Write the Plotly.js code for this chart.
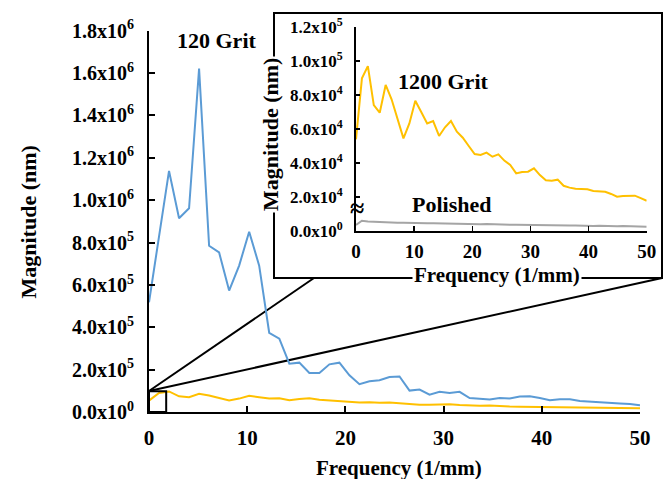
<!DOCTYPE html>
<html>
<head>
<meta charset="utf-8">
<script src="https://cdn.plot.ly/plotly-3.0.1.min.js"></script>
<style>html,body{margin:0;padding:0;background:#fff;}#chart{width:666px;height:479px;}</style>
</head>
<body>
<div id="chart"></div>
<script>
// Frequency (1/mm)
const frequency = [0, 1.02, 2.04, 3.06, 4.08, 5.10, 6.12, 7.14, 8.16, 9.18, 10.20, 11.22, 12.24, 13.27, 14.29, 15.31, 16.33, 17.35, 18.37, 19.39, 20.41, 21.43, 22.45, 23.47, 24.49, 25.51, 26.53, 27.55, 28.57, 29.59, 30.61, 31.63, 32.65, 33.67, 34.69, 35.71, 36.73, 37.76, 38.78, 39.80, 40.82, 41.84, 42.86, 43.88, 44.90, 45.92, 46.94, 47.96, 48.98, 50.00];
// Magnitude (nm)
const grit120 = [518000, 830000, 1138000, 915000, 962000, 1621000, 785000, 753000, 573000, 691000, 851000, 691000, 374000, 346000, 228000, 233000, 184000, 184000, 225000, 233000, 173000, 131000, 145000, 150000, 165000, 168000, 101000, 106000, 82000, 95000, 90000, 95000, 66000, 62000, 59000, 66000, 64000, 73000, 74000, 66000, 56000, 60000, 60000, 52000, 49000, 45000, 40000, 40000, 38000, 32000];
const grit1200 = [53900, 89800, 97000, 74100, 69600, 85900, 77500, 66000, 54500, 63300, 76600, 70000, 63300, 64700, 55900, 61000, 64700, 58400, 54900, 50000, 45300, 44700, 46100, 43700, 45100, 41400, 38800, 33900, 34700, 34900, 36900, 32900, 29800, 29600, 30200, 26600, 25500, 24900, 24500, 24500, 23500, 23100, 23100, 21800, 20200, 20600, 20600, 20800, 19300, 17800];
const polished = [3500, 6000, 5600, 5400, 5200, 5100, 5000, 4900, 4900, 4700, 4800, 4600, 4500, 4500, 4400, 4400, 4300, 4200, 4300, 4100, 4100, 4000, 4100, 3900, 3800, 3900, 3700, 3700, 3600, 3700, 3500, 3500, 3400, 3500, 3300, 3300, 3200, 3300, 3100, 3100, 3000, 3100, 2900, 2900, 2800, 2900, 2700, 2700, 2600, 2500];

const mainXTicks = [0, 10, 20, 30, 40, 50];
const mainYTicks = [0, 200000, 400000, 600000, 800000, 1000000, 1200000, 1400000, 1600000, 1800000];
const mainYTickText = ['0.0x10<sup>0</sup>', '2.0x10<sup>5</sup>', '4.0x10<sup>5</sup>', '6.0x10<sup>5</sup>', '8.0x10<sup>5</sup>', '1.0x10<sup>6</sup>', '1.2x10<sup>6</sup>', '1.4x10<sup>6</sup>', '1.6x10<sup>6</sup>', '1.8x10<sup>6</sup>'];
const insetYTicks = [0, 20000, 40000, 60000, 80000, 100000, 120000];
const insetYTickText = ['0.0x10<sup>0</sup>', '2.0x10<sup>4</sup>', '4.0x10<sup>4</sup>', '6.0x10<sup>4</sup>', '8.0x10<sup>4</sup>', '1.0x10<sup>5</sup>', '1.2x10<sup>5</sup>'];
const zoomBox = {x0: 0, x1: 1.75, y0: 0, y1: 98000};

const W = 666, H = 479, ML = 149, MR = 10, MT = 10, MB = 67;
const PW = W - ML - MR, PH = H - MT - MB;
const px = v => (v - ML) / PW;
const py = v => (H - MB - v) / PH;

const FONT = 'Liberation Serif, Times New Roman, serif';
const f = (s) => ({family: FONT, size: s, color: '#000', weight: 'bold'});
const BLUE = '#5B9BD5', YEL = '#FFC000', GRAY = '#A5A5A5';

const traces = [
  {x: frequency, y: grit1200, type: 'scatter', mode: 'lines', line: {color: YEL, width: 2}, xaxis: 'x', yaxis: 'y', hoverinfo: 'skip'},
  {x: frequency, y: grit120, type: 'scatter', mode: 'lines', line: {color: BLUE, width: 2}, xaxis: 'x', yaxis: 'y', hoverinfo: 'skip'},
  {x: frequency, y: polished, type: 'scatter', mode: 'lines', line: {color: GRAY, width: 2}, xaxis: 'x2', yaxis: 'y2', hoverinfo: 'skip'},
  {x: frequency, y: grit1200, type: 'scatter', mode: 'lines', line: {color: YEL, width: 2}, xaxis: 'x2', yaxis: 'y2', hoverinfo: 'skip'}
];

const axBase = {showline: true, linewidth: 2, linecolor: '#000', ticks: 'inside', tickcolor: '#000', showgrid: false, zeroline: false, fixedrange: true};

const layout = {
  width: W, height: H,
  margin: {l: ML, r: MR, t: MT, b: MB, pad: 0},
  paper_bgcolor: '#fff', plot_bgcolor: 'rgba(0,0,0,0)',
  showlegend: false,
  xaxis: Object.assign({}, axBase, {domain: [0, px(640)], range: [0, 50], tickmode: 'array', tickvals: mainXTicks, ticklen: 6, tickwidth: 2, tickfont: f(21), ticklabelstandoff: 6, anchor: 'y'}),
  yaxis: Object.assign({}, axBase, {domain: [0, py(30.7)], range: [0, 1800000], tickmode: 'array', tickvals: mainYTicks, ticktext: mainYTickText, ticklen: 6, tickwidth: 2, tickfont: f(20), ticklabelstandoff: 9, anchor: 'x'}),
  xaxis2: Object.assign({}, axBase, {domain: [px(356), px(646.7)], range: [0, 50], tickmode: 'array', tickvals: mainXTicks, ticklen: 5, tickwidth: 1.5, tickfont: f(19), ticklabelstandoff: 2, anchor: 'y2'}),
  yaxis2: Object.assign({}, axBase, {domain: [py(231), py(27)], range: [0, 120000], tickmode: 'array', tickvals: insetYTicks, ticktext: insetYTickText, ticklen: 4, tickwidth: 1.5, tickfont: f(17), ticklabelstandoff: 8, anchor: 'x2'}),
  shapes: [
    {type: 'line', xref: 'paper', yref: 'paper', x0: px(149), y0: py(391), x1: px(314), y1: py(278), line: {color: '#000', width: 2}, layer: 'below'},
    {type: 'line', xref: 'paper', yref: 'paper', x0: px(149), y0: py(391), x1: px(662), y1: py(278), line: {color: '#000', width: 2}, layer: 'below'},
    {type: 'rect', xref: 'paper', yref: 'paper', x0: px(274), y0: py(278), x1: px(662), y1: py(13), fillcolor: '#fff', line: {color: '#000', width: 2}, layer: 'below'},
    {type: 'rect', xref: 'x', yref: 'y', x0: zoomBox.x0, x1: zoomBox.x1, y0: zoomBox.y0, y1: zoomBox.y1, fillcolor: 'rgba(0,0,0,0)', line: {color: '#000', width: 2}, layer: 'above'}
  ],
  annotations: [
    {text: 'Frequency (1/mm)', xref: 'paper', yref: 'paper', x: px(399), y: py(468), showarrow: false, font: f(21), xanchor: 'center', yanchor: 'middle'},
    {text: 'Magnitude (nm)', xref: 'paper', yref: 'paper', x: px(27.5), y: py(222), showarrow: false, font: f(22), textangle: -90, xanchor: 'center', yanchor: 'middle'},
    {text: '120 Grit', xref: 'paper', yref: 'paper', x: px(216.5), y: py(40), showarrow: false, font: f(22), xanchor: 'center', yanchor: 'middle'},
    {text: '1200 Grit', xref: 'paper', yref: 'paper', x: px(442.5), y: py(82), showarrow: false, font: f(22), xanchor: 'center', yanchor: 'middle'},
    {text: 'Polished', xref: 'paper', yref: 'paper', x: px(451), y: py(205), showarrow: false, font: f(22), xanchor: 'center', yanchor: 'middle'},
    {text: 'Frequency (1/mm)', xref: 'paper', yref: 'paper', x: px(497), y: py(275), showarrow: false, font: f(21), bgcolor: '#fff', borderpad: 1, xanchor: 'center', yanchor: 'middle'},
    {text: 'Magnitude (nm)', xref: 'paper', yref: 'paper', x: px(270), y: py(135), showarrow: false, font: f(22), bgcolor: '#fff', borderpad: 1, textangle: -90, xanchor: 'center', yanchor: 'middle'},
    {text: '≈', xref: 'paper', yref: 'paper', x: px(356.5), y: py(208), showarrow: false, font: f(26), bgcolor: 'rgba(0,0,0,0)', borderpad: 0, xanchor: 'center', yanchor: 'middle'}
  ]
};

Plotly.newPlot('chart', traces, layout, {staticPlot: true, displayModeBar: false});
</script>
</body>
</html>
